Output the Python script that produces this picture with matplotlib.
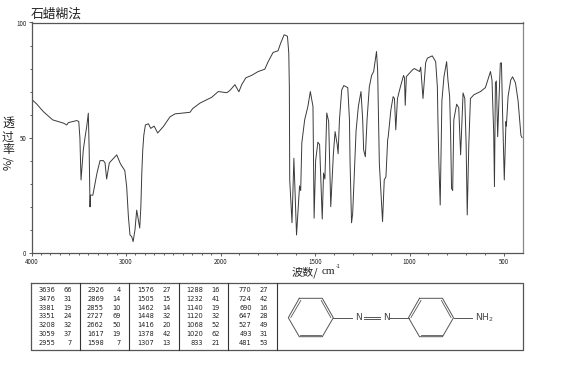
import numpy as np
import matplotlib
matplotlib.use('Agg')
import matplotlib.pyplot as plt

plt.rcParams['font.family'] = ['Noto Sans CJK SC', 'DejaVu Sans']

# spectrum
WN = [4000, 3945, 3875, 3776, 3663, 3627, 3610, 3522, 3500, 3488, 3476, 3452, 3434, 3415, 3399, 3390, 3381, 3376, 3351, 3307, 3275, 3240, 3222, 3205,
      3177, 3098, 3063, 3050, 3013, 2993, 2975, 2958, 2940, 2925, 2905, 2887, 2869, 2855, 2843, 2833, 2823, 2812, 2795, 2763, 2738, 2703, 2665,
      2605, 2535, 2482, 2410, 2323, 2295, 2217, 2094, 2024, 1967, 1950, 1924, 1903, 1888, 1866, 1836, 1801, 1766, 1748, 1722, 1696, 1682, 1664,
      1660, 1646, 1639, 1636, 1634, 1622, 1612, 1598, 1582, 1576, 1570, 1555, 1538, 1525, 1511, 1505, 1497, 1485, 1476, 1462, 1455, 1448, 1438, 1428,
      1417, 1403, 1394, 1383, 1378, 1371, 1359, 1348, 1327, 1318, 1315, 1307, 1301, 1290, 1283, 1271, 1257, 1248, 1243, 1234, 1225, 1213, 1201, 1190,
      1175, 1169, 1164, 1160, 1143, 1134, 1125, 1116, 1113, 1099, 1087, 1080, 1073, 1064, 1050, 1032, 1027, 1023, 1017, 985, 975, 947, 941, 929, 915, 906,
      880, 862, 853, 850, 845, 838, 829, 818, 804, 797, 788, 783, 778, 772, 766, 751, 740, 730, 717, 708, 701, 695, 687, 678, 660, 625, 599, 590,
      572, 564, 555, 551, 546, 541, 534, 520, 514, 508, 499, 490, 488, 479, 465, 455, 440, 426, 411, 405]
TR = [66.7, 64.6, 61.3, 57.7, 56.3, 55.5, 56.5, 57.4, 57, 50, 31.6, 44.6, 50, 55, 60.6, 45, 19.9, 25, 25, 34.6, 40, 40, 39, 32,
      39, 42.5, 39, 38, 35.7, 28.7, 15.7, 7.7, 7, 4.8, 10, 18.5, 14, 10.7, 20, 34.6, 44.6, 51, 55.5, 56, 54, 55, 52,
      54.8, 59, 60.3, 60.6, 61, 62.6, 65, 67.5, 70, 69.5, 70.5, 73, 69.9, 73, 76, 77, 78.7, 79.7, 83, 87, 87.7, 91, 94.6,
      94.6, 94, 86.7, 72, 31.6, 13, 41, 7.7, 29, 27, 47.7, 57.7, 63.5, 70, 63.5, 15, 40, 48, 47, 14.6, 34.6, 32, 60.7, 57,
      20, 43, 52.6, 47, 43, 57.7, 70.7, 72.6, 71.7, 57.7, 40, 13, 17, 39, 53, 63.5, 70, 57.7, 44.6, 41.7, 57.7, 72, 77, 78.7,
      87.4, 79.4, 57.7, 39, 13.5, 31.6, 33, 49, 50.4, 62, 67.8, 67, 53.4, 67, 71.6, 77, 76, 64, 76.5, 79.4, 80, 78.7, 80.6, 67, 82.5, 84.5,
      85.5, 83, 72, 57.7, 39, 20.7, 66, 76.5, 83, 75, 67.8, 52, 28, 27, 57.7, 64.5, 63, 42.5, 69.4, 67, 47.7, 16.4, 46, 67, 68.6, 70, 71.7, 74,
      78.7, 75, 52, 28.7, 73.8, 74.6, 50.4, 82.3, 82.5, 60.7, 31.6, 57, 55, 67.8, 75, 76.4, 73.8, 66, 51, 50]

X_TICKS = [4000, 3000, 2000, 1500, 1000, 500]
Y_TICKS = [0, 50, 100]

PEAK_WN = [[3636, 3476, 3381, 3351, 3208, 3059, 2955],
           [2926, 2869, 2855, 2727, 2662, 1617, 1598],
           [1576, 1505, 1462, 1448, 1416, 1378, 1307],
           [1288, 1232, 1140, 1120, 1068, 1020, 833],
           [770, 724, 690, 647, 527, 493, 481]]
PEAK_T = [[66, 31, 19, 24, 32, 37, 7],
          [4, 14, 10, 69, 50, 19, 7],
          [27, 15, 14, 32, 20, 42, 13],
          [16, 41, 19, 32, 52, 62, 21],
          [27, 42, 16, 28, 49, 31, 53]]


# spectrometer axis: the scale doubles below 2000
def forward(x):
    x = np.asarray(x, dtype=float)
    return np.where(x >= 2000, (x - 4000) / 2, x - 3000)


def inverse(u):
    u = np.asarray(u, dtype=float)
    return np.where(u >= -1000, 4000 + 2 * u, u + 3000)


W, H = 570, 366
fig = plt.figure(figsize=(W / 100, H / 100), dpi=100)
ax = fig.add_axes([31.5 / W, 1 - 252.7 / H, (523 - 31.5) / W, (252.7 - 22.5) / H])
ax.set_xscale('function', functions=(forward, inverse))
ax.plot(WN, TR, color='#3a3a3a', lw=0.7)
ax.set_xticks(X_TICKS, [str(t) for t in X_TICKS])
ax.set_xticks([t for t in range(500, 4000, 100) if t not in X_TICKS], minor=True)
ax.set_yticks(Y_TICKS, [str(t) for t in Y_TICKS])
ax.set_yticks(range(10, 100, 10), minor=True)
ax.set_xlim(4000, 400)
ax.set_ylim(0, 100)
ax.tick_params(which='major', length=2.5, width=0.6, color='#444444', labelsize=4.5, pad=1.2, labelcolor='#222222')
ax.tick_params(which='minor', length=1.5, width=0.6, color='#444444')
for s in ax.spines.values():
    s.set_linewidth(0.9)
    s.set_color('#555555')
ax.spines['right'].set_color('#888888')

# overlay in pixels for the labels, peak table and the structure
ov = fig.add_axes([0, 0, 1, 1])
ov.set_xlim(0, W)
ov.set_ylim(H, 0)
ov.axis('off')

ov.text(31, 14.5, '石蜡糊法', fontsize=9.2, va='center', color='#222222')
for yy, ch in [(123, '透'), (137, '过'), (149, '率')]:
    ov.text(8, yy, ch, fontsize=8.6, ha='center', va='center', color='#222222')
ov.text(8, 163, '%/', fontsize=8, rotation=90, ha='center', va='center', color='#222222')
ov.text(292, 272, '波数/', fontsize=8, va='center', color='#222222')
ov.text(322, 271.5, 'cm', fontsize=8, va='center', family='Liberation Serif', color='#222222')
ov.text(336, 267, '-1', fontsize=3.6, va='center', family='DejaVu Sans', color='#222222')

# peak table
box_y = [283.3, 350]
ov.plot([31, 522.7, 522.7, 31, 31], [283.3, 283.3, 350, 350, 283.3], color='#555555', lw=0.9)
for sx in [80.3, 129.3, 179.3, 227.7, 277.3]:
    ov.plot([sx, sx], box_y, color='#333333', lw=0.8)
row_y = [290.3, 299, 307.5, 316.5, 325, 333.7, 342.7]
wn_x = [55, 104, 154, 202.7, 251.7]
t_x = [71.7, 121, 171, 220, 268]
for c in range(5):
    for r in range(7):
        ov.text(wn_x[c], row_y[r], str(PEAK_WN[c][r]), fontsize=4.8, ha='right', va='center', family='DejaVu Sans', color='#222222')
        ov.text(t_x[c], row_y[r], str(PEAK_T[c][r]), fontsize=4.8, ha='right', va='center', family='DejaVu Sans', color='#222222')


def ring(x0):
    xs = [x0 + 11, x0 + 34, x0 + 45, x0 + 34, x0 + 11, x0, x0 + 11]
    ys = [298.3, 298.3, 317.7, 336.7, 336.7, 317.7, 298.3]
    ov.plot(xs, ys, color='#555555', lw=0.7)
    # inner double bonds
    ov.plot([x0 + 12.5, x0 + 2.5], [300.5, 317.5], color='#555555', lw=0.6)
    ov.plot([x0 + 33, x0 + 42.5], [300.5, 317.5], color='#555555', lw=0.6)
    ov.plot([x0 + 12, x0 + 33], [334.5, 334.5], color='#555555', lw=0.6)


ring(288.3)
ring(408.5)
ov.plot([333.3, 351.5], [317.7, 317.7], color='#555555', lw=0.7)
ov.plot([390, 408.5], [317.7, 317.7], color='#555555', lw=0.7)
ov.plot([453.5, 471.5], [317.7, 317.7], color='#555555', lw=0.7)
ov.plot([363.5, 380], [316.5, 316.5], color='#555555', lw=0.7)
ov.plot([363.5, 380], [319, 319], color='#555555', lw=0.7)
ov.text(358.5, 317.7, 'N', fontsize=6.6, ha='center', va='center', family='DejaVu Sans', color='#444444')
ov.text(386, 317.7, 'N', fontsize=6.6, ha='center', va='center', family='DejaVu Sans', color='#444444')
ov.text(475, 317.7, 'NH$_2$', fontsize=6.6, ha='left', va='center', family='DejaVu Sans', color='#444444')

fig.savefig('out.png', dpi=100)
